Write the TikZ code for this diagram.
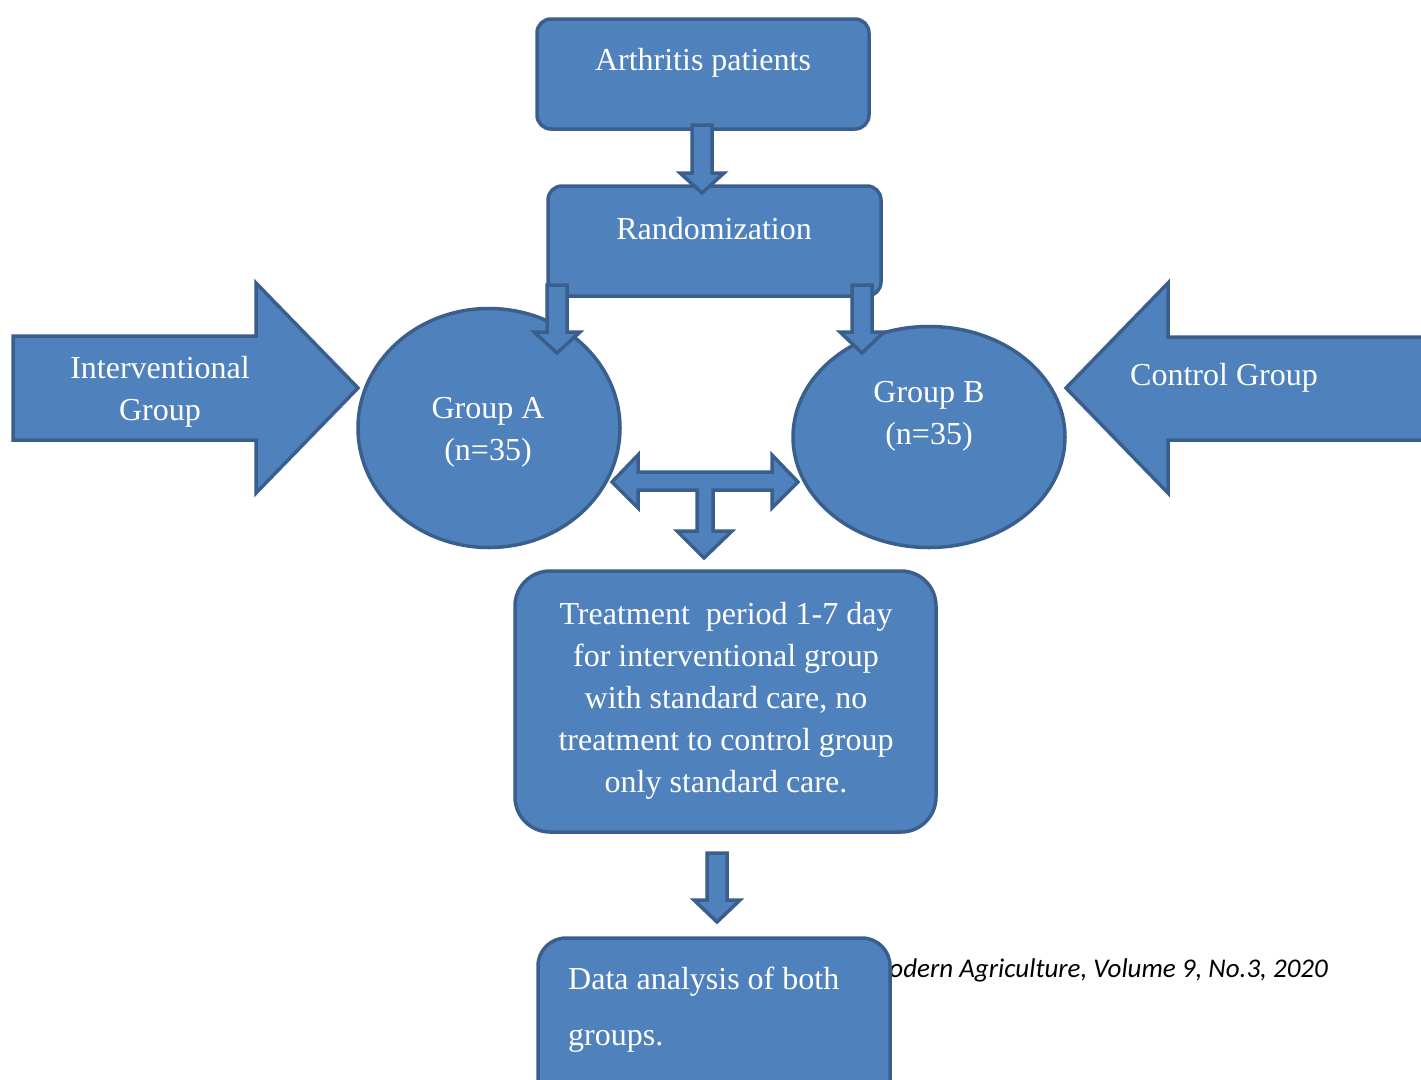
\documentclass[tikz,border=0pt]{standalone}
\usepackage{fontspec}
\setmainfont{Liberation Serif}
\newfontfamily\footfont{Carlito}
\usetikzlibrary{calc,shapes.geometric}
\definecolor{bfill}{HTML}{4F81BD}
\definecolor{bline}{HTML}{3A5F8D}
\tikzset{
  shp/.style={fill=bfill,draw=bline,line width=3.5pt},
  boxn/.style={shp,rounded corners=14pt,inner sep=0pt,rectangle},
  ellnode/.style={shp,ellipse,inner sep=0pt},
  lbl/.style={text=white,font=\fontsize{32}{42}\selectfont,align=center,inner sep=0pt},
}
% x, ytop, ytip, shaft half width, head half width, head length
\newcommand\bdown[6]{%
  \draw[shp] (#1-#4,#2) -- (#1+#4,#2) -- (#1+#4,#3-#6) -- (#1+#5,#3-#6) -- (#1,#3)
    -- (#1-#5,#3-#6) -- (#1-#4,#3-#6) -- cycle;}
\begin{document}
\begin{tikzpicture}[x=1pt,y=-1pt]
\useasboundingbox (0,0) rectangle (1421,1079);
\clip (0,0) rectangle (1421,1079);
\fill[white] (0,0) rectangle (1421,1079);

% footer text (partly hidden by the last box)
\node[anchor=base east,inner sep=0pt,font=\footfont\itshape\fontsize{27}{30}\selectfont] (foot) at (1328,977) {Modern Agriculture, Volume 9, No.3, 2020};

% boxes
\node[boxn,minimum width=332pt,minimum height=110pt] (arth) at (703,74) {};
\node[boxn,minimum width=333pt,minimum height=110pt] (rand) at (714.5,241) {};
\node[ellnode,minimum width=262pt,minimum height=239pt] (ga) at (489,428) {};
\node[ellnode,minimum width=272pt,minimum height=221pt] (gb) at (929,437) {};
\node[boxn,rounded corners=35pt,minimum width=421pt,minimum height=261pt] (treat) at (725.5,701.5) {};
\node[boxn,rounded corners=28pt,minimum width=352pt,minimum height=182pt] (data) at (714,1029) {};

% side block arrows
\draw[shp] (13,336) -- (256,336) -- (256,283) -- (358,388) -- (256,493) -- (256,440) -- (13,440) -- cycle;
\draw[shp] (1440,337) -- (1168,337) -- (1168,283) -- (1066,388) -- (1168,493) -- (1168,440) -- (1440,440) -- cycle;

% down arrows
\bdown{702}{125}{193}{10}{22}{20}
\bdown{557}{285}{353}{10}{23}{21}
\bdown{862}{285}{353}{10}{22}{21}
\bdown{717}{853}{922}{10}{23}{22}

% three-way arrow
\draw[shp] (612,482) -- (638,455) -- (638,472) -- (772,472) -- (772,455) -- (798,482)
  -- (772,508) -- (772,490) -- (713,490) -- (713,531) -- (732,531) -- (704,558)
  -- (677,531) -- (697,531) -- (697,490) -- (638,490) -- (638,508) -- cycle;

% labels
\node[lbl] (arthT) at (703,63) {Arthritis patients};
\node[lbl] (randT) at (714,229) {Randomization};
\node[lbl] (gaT) at (488,432) {Group A\\(n=35)};
\node[lbl] (gbT) at (929,416) {Group B\\(n=35)};
\node[lbl] (intT) at (160,392) {Interventional\\Group};
\node[lbl] (ctlT) at (1224,378) {Control Group};
\node[lbl] (treatT) at (726,701) {Treatment\ \ period 1-7 day\\for interventional group\\with standard care, no\\treatment to control group\\only standard care.};
\node[lbl,align=left,anchor=west,font=\fontsize{32}{56}\selectfont] (dataT) at (568,1010) {Data analysis of both\\groups.};
\end{tikzpicture}
\end{document}
